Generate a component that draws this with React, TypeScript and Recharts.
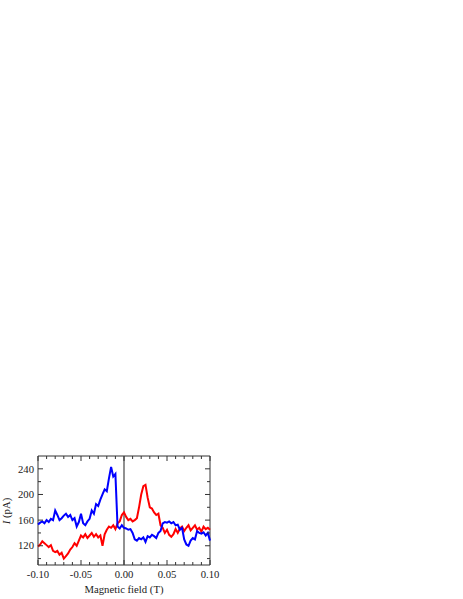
import { LineChart, Line, XAxis, YAxis, ReferenceArea, ReferenceLine, Label } from 'recharts';

// magnetic field (T), step 0.0025
const field: number[] = Array.from({ length: 81 }, (_, i) => Number((-0.1 + i * 0.0025).toFixed(4)));

// current I (pA), blue sweep
const blueCurrent = [
    153, 156, 158, 155, 160, 157, 162, 160, 175, 168,
    160, 163, 167, 170, 165, 168, 160, 163, 150, 157,
    170, 155, 152, 158, 162, 175, 170, 185, 182, 192,
    200, 208, 205, 225, 243, 228, 232, 150, 147, 152,
    148, 147, 145, 146, 140, 130, 128, 132, 130, 133,
    126, 135, 133, 137, 135, 132, 140, 143, 155, 157,
    156, 158, 155, 157, 152, 153, 145, 148, 130, 122,
    120, 128, 132, 130, 143, 140, 139, 141, 136, 140,
    128,
];

// current I (pA), red sweep
const redCurrent = [
    119, 122, 127, 124, 121, 118, 121, 112, 110, 112,
    106, 109, 100, 104, 108, 114, 118, 124, 120, 128,
    136, 133, 138, 132, 136, 140, 134, 138, 133, 136,
    120, 138, 145, 150, 148, 152, 146, 155, 158, 168,
    172, 165, 160, 162, 158, 160, 163, 180, 200, 213,
    215, 195, 180, 178, 172, 168, 170, 152, 148, 140,
    145, 137, 134, 138, 146, 140, 147, 150, 143, 148,
    152, 144, 148, 152, 145, 148, 142, 150, 146, 148,
    145,
];

const xTicks = [-0.1, -0.09, -0.08, -0.07, -0.06, -0.05, -0.04, -0.03, -0.02, -0.01, 0, 0.01, 0.02, 0.03, 0.04, 0.05, 0.06, 0.07, 0.08, 0.09, 0.1];
const yTicks = [100, 120, 140, 160, 180, 200, 220, 240];
const yMajor = [120, 160, 200, 240];

const data = field.map((b, i) => ({ b, blue: blueCurrent[i], red: redCurrent[i] }));

const PLOT_W = 172;
const PLOT_H = 109;
const FONT = '"Liberation Serif", "Times New Roman", serif';
const FS = 10.7;

const XTick = (props: any) => {
    const { x, y, payload } = props;
    const v: number = payload.value;
    const major = Math.round(v * 100) % 5 === 0;
    const len = major ? 5 : 3;
    return (
        <g>
            <line x1={x} y1={y} x2={x} y2={y - len} stroke="#333" />
            <line x1={x} y1={y - PLOT_H} x2={x} y2={y - PLOT_H + len} stroke="#333" />
            {major && (
                <text x={x} y={y + 13} textAnchor="middle" fontSize={FS} fontFamily={FONT} fill="#222">
                    {v.toFixed(2)}
                </text>
            )}
        </g>
    );
};

const YTick = (props: any) => {
    const { x, y, payload } = props;
    const v: number = payload.value;
    const major = yMajor.includes(v);
    const len = major ? 5 : 3;
    return (
        <g>
            <line x1={x} y1={y} x2={x + len} y2={y} stroke="#333" />
            <line x1={x + PLOT_W} y1={y} x2={x + PLOT_W - len} y2={y} stroke="#333" />
            {major && (
                <text x={x - 4} y={y + 3.7} textAnchor="end" fontSize={FS} fontFamily={FONT} fill="#222">
                    {v}
                </text>
            )}
        </g>
    );
};

const YTitle = () => (
    <text x={10} y={511} transform="rotate(-90, 10, 511)" textAnchor="middle" fontSize={FS} fontFamily={FONT} fill="#222">
        <tspan fontStyle="italic">I</tspan> (pA)
    </text>
);

export default function App() {
    return (
        <div style={{ position: 'absolute', left: 0, top: 0 }}>
            <LineChart width={463} height={599} data={data} margin={{ top: 456, right: 253, left: 0, bottom: 0 }}>
                <XAxis
                    dataKey="b"
                    type="number"
                    domain={[-0.1, 0.1]}
                    ticks={xTicks}
                    interval={0}
                    tickSize={0}
                    tickMargin={0}
                    tickLine={false}
                    axisLine={false}
                    height={34}
                    tick={<XTick />}
                >
                    <Label value="Magnetic field (T)" position="insideBottom" offset={6} fontSize={FS} fontFamily={FONT} fill="#222" />
                </XAxis>
                <YAxis
                    type="number"
                    domain={[90, 260]}
                    ticks={yTicks}
                    interval={0}
                    tickSize={0}
                    tickMargin={0}
                    tickLine={false}
                    axisLine={false}
                    width={38}
                    tick={<YTick />}
                >
                    <Label content={<YTitle />} />
                </YAxis>
                <ReferenceArea x1={-0.1} x2={0.1} y1={90} y2={260} fill="none" stroke="#333" strokeWidth={1} />
                <ReferenceLine x={0} stroke="#555" strokeWidth={1.3} />
                <Line dataKey="red" stroke="#ff0000" strokeWidth={2} dot={false} isAnimationActive={false} />
                <Line dataKey="blue" stroke="#0000ff" strokeWidth={2} dot={false} isAnimationActive={false} />
            </LineChart>
        </div>
    );
}
